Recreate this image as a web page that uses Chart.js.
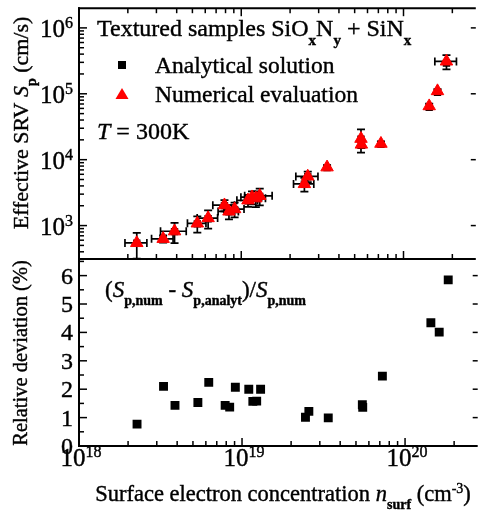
<!DOCTYPE html>
<html>
<head>
<meta charset="utf-8">
<script src="https://cdn.jsdelivr.net/npm/chart.js@4.4.1/dist/chart.umd.min.js"></script>
<style>
    body { margin: 0; background: #fff; }
    #wrap { position: relative; width: 484px; height: 512px; }
    #wrap canvas { position: absolute; left: 0; top: 0; }
</style>
</head>
<body>
<div id="wrap">
    <canvas id="srv-chart" width="484" height="512"></canvas>
    <canvas id="dev-chart" width="484" height="512"></canvas>
</div>
<script>
// surface electron concentration (cm^-3) for each sample
const nSurf = [2.27e18, 3.3e18, 3.88e18, 5.36e18, 6.25e18, 7.88e18, 8.4e18, 9.1e18, 1.1e19, 1.165e19, 1.23e19,
    1.3e19, 2.45e19, 2.57e19, 3.38e19, 5.47e19, 5.5e19, 7.26e19, 1.44e20, 1.62e20, 1.84e20];
const nSurfErr = [0.35e18, 0.5e18, 0.7e18, 0.7e18, 0.9e18, 1.2e18, 1.2e18, 1.3e18, 1.6e18, 1.7e18, 1.8e18,
    2.5e18, 3.5e18, 4e18, 0, 0, 0, 0, 0, 0, 2.8e19];
// effective SRV (cm/s)
const srvNumerical = [545, 630, 820, 1080, 1300, 2040, 1640, 1780, 2420, 2700, 2600,
    2830, 4280, 5570, 7670, 20800, 17000, 17500, 65000, 110000, 310000];
const srvAnalytical = [541, 617, 808, 1063, 1271, 2011, 1618, 1743, 2372, 2658, 2559,
    2773, 4237, 5502, 7594, 20500, 16770, 17070, 62200, 105600, 292000];
const srvErr = [230, 80, 280, 300, 400, 400, 400, 450, 500, 600, 700,
    800, 1000, 1000, 500, 8000, 2000, 1500, 6000, 8000, 75000];
// relative deviation (%)
const relDeviation = [0.77, 2.1, 1.43, 1.53, 2.24, 1.43, 1.37, 2.07, 2.0, 1.57, 1.58,
    2.0, 1.01, 1.22, 0.99, 1.45, 1.36, 2.46, 4.34, 4.01, 5.85];

const xDecades = [18, 19, 20];
const srvDecades = [3, 4, 5, 6];
const devTicks = [0, 1, 2, 3, 4, 5, 6];

const FONT = '"Liberation Serif", "Times New Roman", serif';
const X_MIN = 1e18;
const X_MAX = 2.79e20;

// parts: [text, style] with style letters i = italic, b = subscript, p = superscript
function partFont(p, size) {
    let s = size;
    let st = '';
    if (p[1].includes('b') || p[1].includes('p')) s = Math.round(size * 0.62);
    if (p[1].includes('i')) st += 'italic ';
    if (p[1].includes('b')) st += 'bold ';
    return st + s + 'px ' + FONT;
}

function drawRich(ctx, parts, x, y, size, align) {
    let total = 0;
    const widths = parts.map(p => {
        ctx.font = partFont(p, size);
        const w = ctx.measureText(p[0]).width;
        total += w;
        return w;
    });
    let cx = x;
    if (align === 'center') cx = x - total / 2;
    if (align === 'right') cx = x - total;
    ctx.save();
    ctx.textAlign = 'left';
    ctx.textBaseline = 'alphabetic';
    ctx.lineWidth = 0.4;
    ctx.strokeStyle = ctx.fillStyle;
    parts.forEach((p, i) => {
        ctx.font = partFont(p, size);
        let dy = 0;
        if (p[1].includes('b')) dy = size * 0.36;
        if (p[1].includes('p')) dy = -size * 0.36;
        ctx.fillText(p[0], cx, y + dy);
        ctx.strokeText(p[0], cx, y + dy);
        cx += widths[i];
    });
    ctx.restore();
}

function tickLine(ctx, x1, y1, x2, y2) {
    ctx.beginPath();
    ctx.moveTo(x1, y1);
    ctx.lineTo(x2, y2);
    ctx.stroke();
}

function logTickValues(min, max) {
    const list = [];
    for (let e = Math.floor(Math.log10(min)); e <= Math.ceil(Math.log10(max)); e++) {
        for (let k = 1; k < 10; k++) {
            const v = k * Math.pow(10, e);
            if (v >= min * 0.999 && v <= max) list.push({ v, major: k === 1 });
        }
    }
    return list;
}

function drawXTicks(chart, edges) {
    const ctx = chart.ctx;
    const a = chart.chartArea;
    const xs = chart.scales.x;
    logTickValues(X_MIN, X_MAX).forEach(t => {
        const px = xs.getPixelForValue(t.v);
        const len = t.major ? 8 : 5;
        if (edges.includes('bottom')) tickLine(ctx, px, a.bottom, px, a.bottom - len);
        if (edges.includes('top')) tickLine(ctx, px, a.top, px, a.top + len);
    });
}

function drawFrame(chart, sides) {
    const ctx = chart.ctx;
    const a = chart.chartArea;
    if (sides.includes('left')) tickLine(ctx, a.left, a.top - 1, a.left, a.bottom + 1);
    if (sides.includes('top')) tickLine(ctx, a.left - 1, a.top, a.right, a.top);
    if (sides.includes('bottom')) tickLine(ctx, a.left - 1, a.bottom, a.right, a.bottom);
}

const srvDecor = {
    id: 'srvDecor',
    beforeDatasetsDraw(chart) {
        // error bars, drawn under the markers
        const ctx = chart.ctx;
        const xs = chart.scales.x;
        const ys = chart.scales.y;
        const a = chart.chartArea;
        ctx.save();
        ctx.beginPath();
        ctx.rect(a.left, a.top, a.right - a.left, a.bottom - a.top);
        ctx.clip();
        ctx.strokeStyle = '#000';
        ctx.lineWidth = 1.7;
        const cap = 4;
        nSurf.forEach((n, i) => {
            const px = xs.getPixelForValue(n);
            const py = ys.getPixelForValue(srvNumerical[i]);
            if (nSurfErr[i] > 0) {
                const x1 = xs.getPixelForValue(n - nSurfErr[i]);
                const x2 = xs.getPixelForValue(n + nSurfErr[i]);
                tickLine(ctx, x1, py, x2, py);
                tickLine(ctx, x1, py - cap, x1, py + cap);
                tickLine(ctx, x2, py - cap, x2, py + cap);
            }
            if (srvErr[i] > 0) {
                const y1 = ys.getPixelForValue(srvNumerical[i] - srvErr[i]);
                const y2 = ys.getPixelForValue(srvNumerical[i] + srvErr[i]);
                tickLine(ctx, px, y1, px, y2);
                tickLine(ctx, px - cap, y1, px + cap, y1);
                tickLine(ctx, px - cap, y2, px + cap, y2);
            }
        });
        ctx.restore();
    },
    afterDraw(chart) {
        const ctx = chart.ctx;
        const a = chart.chartArea;
        const ys = chart.scales.y;
        ctx.save();
        ctx.strokeStyle = '#000';
        ctx.fillStyle = '#000';
        ctx.lineWidth = 2;
        drawFrame(chart, ['left', 'top', 'bottom']);
        ctx.lineWidth = 1.5;
        drawXTicks(chart, ['top', 'bottom']);
        logTickValues(ys.min, ys.max).forEach(t => {
            const py = ys.getPixelForValue(t.v);
            tickLine(ctx, a.left, py, a.left + (t.major ? 8 : 5), py);
            if (t.major) tickLine(ctx, a.right, py, a.right - 5, py);
        });
        srvDecades.forEach(e => {
            const py = ys.getPixelForValue(Math.pow(10, e));
            drawRich(ctx, [['10', ''], [String(e), 'p']], 73, py + 9, 25, 'right');
        });

        // y title
        ctx.save();
        ctx.translate(28, 123);
        ctx.rotate(-Math.PI / 2);
        drawRich(ctx, [['Effective SRV ', ''], ['S', 'i'], ['p', 'b'], [' (cm/s)', '']], 0, 0, 22, 'center');
        ctx.restore();

        // annotations and legend
        drawRich(ctx, [['Textured samples SiO', ''], ['x', 'b'], ['N', ''], ['y', 'b'], [' + SiN', ''], ['x', 'b']], 97, 36, 24, 'left');
        ctx.fillRect(118, 61, 8, 8);
        drawRich(ctx, [['Analytical solution', '']], 155, 73, 23.5, 'left');
        ctx.fillStyle = '#ff0000';
        ctx.beginPath();
        ctx.moveTo(122, 88);
        ctx.lineTo(128.5, 99);
        ctx.lineTo(115.5, 99);
        ctx.closePath();
        ctx.fill();
        ctx.fillStyle = '#000';
        drawRich(ctx, [['Numerical evaluation', '']], 155, 102, 23.5, 'left');
        drawRich(ctx, [['T', 'i'], [' = 300K', '']], 97, 139, 24, 'left');
        ctx.restore();
    }
};

const devDecor = {
    id: 'devDecor',
    afterDraw(chart) {
        const ctx = chart.ctx;
        const a = chart.chartArea;
        const xs = chart.scales.x;
        const ys = chart.scales.y;
        ctx.save();
        ctx.strokeStyle = '#000';
        ctx.fillStyle = '#000';
        ctx.lineWidth = 2;
        drawFrame(chart, ['left', 'bottom']);
        ctx.lineWidth = 1.5;
        drawXTicks(chart, ['bottom']);
        for (let v = 0.5; v < ys.max; v += 0.5) {
            const py = ys.getPixelForValue(v);
            const major = Number.isInteger(v);
            tickLine(ctx, a.left, py, a.left + (major ? 8 : 5), py);
            if (major) tickLine(ctx, a.right, py, a.right - 5, py);
        }
        devTicks.forEach(v => {
            const py = ys.getPixelForValue(v);
            drawRich(ctx, [[String(v), '']], 73, py + 8, 24, 'right');
        });
        xDecades.forEach(e => {
            const px = xs.getPixelForValue(Math.pow(10, e));
            drawRich(ctx, [['10', ''], [String(e), 'p']], px + 2, 466, 25, 'center');
        });

        ctx.save();
        ctx.translate(27, 353);
        ctx.rotate(-Math.PI / 2);
        drawRich(ctx, [['Relative deviation (%)', '']], 0, 0, 20.5, 'center');
        ctx.restore();

        drawRich(ctx, [['Surface electron concentration ', ''], ['n', 'i'], ['surf', 'b'], [' (cm', ''], ['-3', 'p'], [')', '']],
            283, 501, 22.5, 'center');
        drawRich(ctx, [['(', ''], ['S', 'i'], ['p,num', 'b'], [' - ', ''], ['S', 'i'], ['p,analyt', 'b'], [')/', ''], ['S', 'i'], ['p,num', 'b']],
            105, 297, 23, 'left');
        ctx.restore();
    }
};

function pointsOf(ys) {
    return nSurf.map((n, i) => ({ x: n, y: ys[i] }));
}

function baseOptions(padding, yScale) {
    return {
        responsive: false,
        animation: false,
        layout: { padding },
        plugins: { legend: { display: false }, tooltip: { enabled: false } },
        scales: {
            x: { type: 'logarithmic', min: X_MIN, max: X_MAX, display: false },
            y: yScale
        }
    };
}

new Chart(document.getElementById('srv-chart').getContext('2d'), {
    type: 'scatter',
    data: {
        datasets: [{
            label: 'Numerical evaluation',
            data: pointsOf(srvNumerical),
            pointStyle: 'triangle',
            pointRadius: 7.2,
            backgroundColor: '#ff0000',
            borderColor: '#ff0000',
            borderWidth: 1,
            order: 0
        }, {
            label: 'Analytical solution',
            data: pointsOf(srvAnalytical),
            pointStyle: 'rect',
            pointRadius: 5.2,
            backgroundColor: '#000',
            borderWidth: 0,
            order: 1
        }]
    },
    options: baseOptions({ left: 79, right: 0, top: 4, bottom: 253 },
        { type: 'logarithmic', min: 311, max: 1.99e6, display: false }),
    plugins: [srvDecor]
});

new Chart(document.getElementById('dev-chart').getContext('2d'), {
    type: 'scatter',
    data: {
        datasets: [{
            label: 'Relative deviation',
            data: pointsOf(relDeviation),
            pointStyle: 'rect',
            pointRadius: 6.3,
            backgroundColor: '#000',
            borderWidth: 0
        }]
    },
    options: baseOptions({ left: 79, right: 0, top: 259, bottom: 66 },
        { type: 'linear', min: 0, max: 6.585, display: false }),
    plugins: [devDecor]
});
</script>
</body>
</html>
